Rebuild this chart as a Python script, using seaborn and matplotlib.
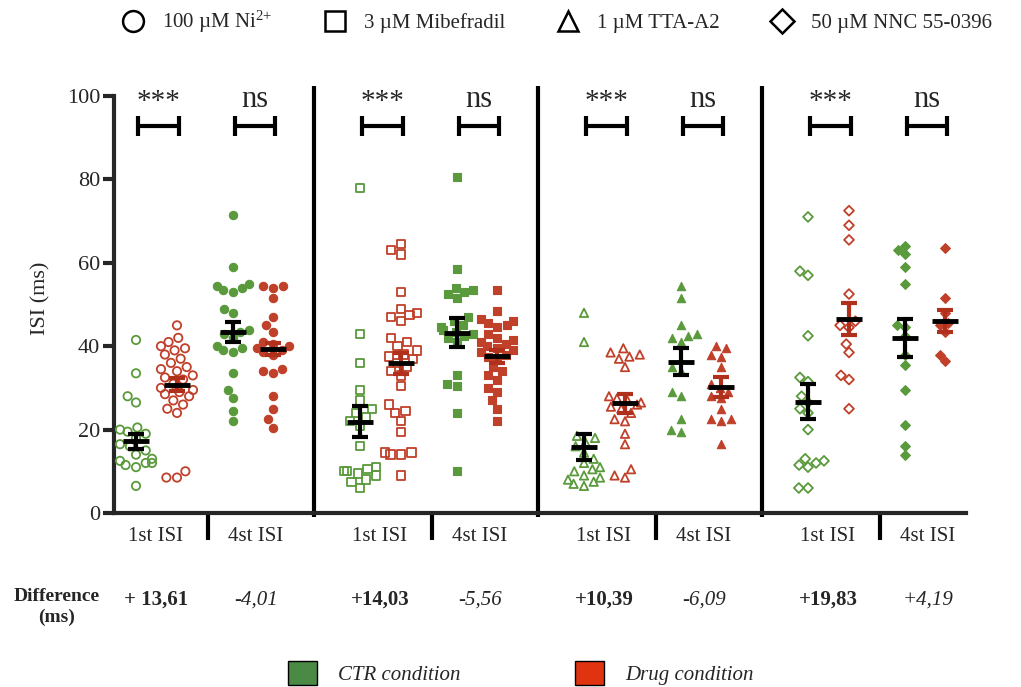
import numpy as np
import pandas as pd
import matplotlib
matplotlib.use('Agg')
import matplotlib.pyplot as plt
import matplotlib.transforms as mtransforms
from matplotlib.lines import Line2D
from matplotlib.patches import Patch
import seaborn as sns

# ---- labels ----
drugs = ['100 µM Ni$^{2{+}}$', '3 µM Mibefradil', '1 µM TTA-A2', '50 µM NNC 55-0396']
drug_markers = ['o', 's', '^', 'D']
marker_sizes = [6.0, 6.0, 6.0, 5.0]
isi_labels = ['1st ISI', '4st ISI']
condition_labels = ['CTR condition', 'Drug condition']
sig_labels = ['***', 'ns']
diff_labels = ['+ 13,61', '-4,01', '+14,03', '-5,56', '+10,39', '-6,09', '+19,83', '+4,19']

# ---- individual ISI values (ms) ----
ni_ctr_1st = [41.5, 33.5, 28, 26.5, 20.5, 20, 19.5, 19, 18, 16.5, 16, 15, 14, 13, 12.5, 12, 12, 11.5, 11, 6.5]
ni_drug_1st = [45, 42, 41, 40, 39.5, 39, 38, 37, 36, 35, 34.5, 34, 33, 32.5, 32, 31, 30, 29.5, 29, 28.5,
               28, 27, 26, 25, 24, 10, 8.5, 8.5]
ni_ctr_4st = [71.5, 59, 55, 54.5, 54, 53.5, 53, 49, 48, 44, 43.5, 43, 42, 40, 39.5, 39, 38.5, 33.5, 29.5,
              27.5, 24.5, 22]
ni_drug_4st = [54.5, 54.5, 54, 51.5, 47, 45, 43.5, 41, 40.5, 40, 39.5, 39, 38.5, 38, 34.5, 34, 33.5, 28, 25,
               22.5, 20.5]

mib_ctr_1st = [78, 43, 36, 29.5, 27, 25, 24, 23, 22, 21, 16, 11, 10.5, 10, 10, 9.5, 9, 8, 7.5, 6]
mib_drug_1st = [64.5, 63, 62, 53, 49, 48, 47.5, 47, 46, 42, 41, 40, 39, 38, 37.5, 37, 36, 35, 34, 33, 30.5,
                26, 24.5, 24, 22, 19.5, 14.5, 14.5, 14, 14, 9]
mib_ctr_4st = [80.5, 58.5, 54, 53.5, 53, 52.5, 51.5, 47, 46, 45, 44.5, 44, 43.5, 43, 42.5, 42, 41, 33, 31,
               30.5, 24, 10]
mib_drug_4st = [53.5, 48.5, 46.5, 46, 45.5, 45, 44.5, 43, 42, 41.5, 41, 40.5, 40, 39.5, 39, 38.5, 38, 37.5,
                37, 35, 34, 33, 32, 30, 29, 27, 25, 22]

tta_ctr_1st = [48, 41, 18.5, 18, 17, 16, 14.5, 13, 12, 11, 10.5, 10, 9, 8.5, 8, 7.5, 7, 6.5]
tta_drug_1st = [39.5, 38.5, 38, 37.5, 37, 35, 28, 27.5, 27, 26.5, 26, 25.5, 25, 24, 22.5, 22, 19, 16.5,
                10.5, 9, 8.5]
tta_ctr_4st = [54.5, 51.5, 45, 43, 42.5, 42, 41, 35, 34, 29, 28, 22.5, 20, 19.5]
tta_drug_4st = [40, 39.5, 38, 37.5, 35, 31, 30, 29, 28, 27.5, 25, 22.5, 22.5, 22, 16.5]

nnc_ctr_1st = [71, 58, 57, 42.5, 32.5, 31.5, 28, 26.5, 25, 24, 20, 13, 12.5, 12, 11.5, 11, 6, 6]
nnc_drug_1st = [72.5, 69, 65.5, 52.5, 46, 45, 44.5, 40.5, 38.5, 33, 32, 25]
nnc_ctr_4st = [64, 63, 62, 59, 55, 45, 44.5, 42.5, 38, 35.5, 29.5, 21, 16, 14]
nnc_drug_4st = [63.5, 51.5, 48, 45.5, 45, 43.5, 38, 36.5]

# ---- mean +/- SEM ----
mean_ctr_1st = [17.2, 21.9, 15.9, 26.7]
sem_ctr_1st = [1.8, 3.7, 3.1, 4.2]
mean_drug_1st = [30.8, 35.9, 26.3, 46.5]
sem_drug_1st = [1.5, 2.5, 2.2, 3.9]
mean_ctr_4st = [43.4, 43.2, 36.3, 41.9]
sem_ctr_4st = [2.5, 3.5, 3.2, 4.6]
mean_drug_4st = [39.4, 37.6, 30.2, 46.1]
sem_drug_4st = [1.4, 1.6, 2.3, 2.7]

groups = ['ctr_1st', 'drug_1st', 'ctr_4st', 'drug_4st']
raw = [
    [ni_ctr_1st, ni_drug_1st, ni_ctr_4st, ni_drug_4st],
    [mib_ctr_1st, mib_drug_1st, mib_ctr_4st, mib_drug_4st],
    [tta_ctr_1st, tta_drug_1st, tta_ctr_4st, tta_drug_4st],
    [nnc_ctr_1st, nnc_drug_1st, nnc_ctr_4st, nnc_drug_4st],
]
means = [mean_ctr_1st, mean_drug_1st, mean_ctr_4st, mean_drug_4st]
sems = [sem_ctr_1st, sem_drug_1st, sem_ctr_4st, sem_drug_4st]

# ---- layout (x axis in pixel-like units) ----
X0, PANEL_STEP = 136, 224
GROUP_OFFS = [0, 41, 97, 137]
green, red = '#5a9a3c', '#c0402a'
palette = {'ctr_1st': green, 'drug_1st': red, 'ctr_4st': green, 'drug_4st': red}

rows = []
for p in range(4):
    for g, name in enumerate(groups):
        for v in raw[p][g]:
            rows.append({'panel': p, 'group': name, 'xpos': X0 + PANEL_STEP * p + GROUP_OFFS[g], 'isi': v})
df = pd.DataFrame(rows)

sns.set_style('white')
plt.rcParams['font.family'] = ['Liberation Serif', 'DejaVu Serif']
plt.rcParams['mathtext.default'] = 'regular'

fig = plt.figure(figsize=(10.21, 6.87), dpi=100)
ax = fig.add_axes([114 / 1021, 1 - 513 / 687, (966 - 114) / 1021, 0.6252])

for p in range(4):
    sub = df[df['panel'] == p]
    n_before = len(ax.collections)
    sns.swarmplot(data=sub, x='xpos', y='isi', hue='group', palette=palette, native_scale=True,
                  orient='x', marker=drug_markers[p], size=marker_sizes[p], legend=False, ax=ax,
                  warn_thresh=1.0)
    for coll in ax.collections[n_before:]:
        offs = coll.get_offsets()
        if len(offs) == 0:
            continue
        cx = np.mean(offs[:, 0]) - X0 - PANEL_STEP * p
        g = int(np.argmin([abs(cx - o) for o in GROUP_OFFS]))
        col = palette[groups[g]]
        if g < 2:
            coll.set_facecolor('none')
            coll.set_edgecolor(col)
            coll.set_linewidth(1.3)
        else:
            coll.set_facecolor(col)
            coll.set_edgecolor(col)
            coll.set_linewidth(0.8)

# mean +/- sem
for p in range(4):
    for g in range(4):
        x = X0 + PANEL_STEP * p + GROUP_OFFS[g]
        ecol = 'black' if g in (0, 2) else '#b0301c'
        ax.errorbar(x, means[g][p], yerr=sems[g][p], fmt='none', ecolor=ecol, elinewidth=3,
                    capsize=6, capthick=3, zorder=6)
        ax.hlines(means[g][p], x - 13, x + 13, color='black', lw=3.5, zorder=7)

# significance brackets
for p in range(4):
    for k in range(2):
        xa = X0 + PANEL_STEP * p + GROUP_OFFS[2 * k] + 2
        xb = X0 + PANEL_STEP * p + GROUP_OFFS[2 * k + 1] + 2
        ax.plot([xa, xb], [92.8, 92.8], color='black', lw=3, clip_on=False)
        ax.vlines([xa, xb], 90.3, 95.3, color='black', lw=3, clip_on=False)
        ax.text((xa + xb) / 2, 98.6 if k == 0 else 99.2, sig_labels[k], ha='center', va='center',
                fontsize=21 if k == 0 else 22)

# panel separators and small ticks below the axis
seps = [X0 + PANEL_STEP * p + 178 for p in range(3)]
ax.vlines(seps, -1, 102.5, color='black', lw=3, clip_on=False)
sub_ticks = [X0 + PANEL_STEP * p + 72 for p in range(4)]
ax.vlines(sub_ticks, -6.5, 0, color='black', lw=3, clip_on=False)

label_x = []
label_txt = []
for p in range(4):
    label_x += [X0 + PANEL_STEP * p + 20, X0 + PANEL_STEP * p + 120]
    label_txt += isi_labels
ax.set_xticks(label_x)
ax.set_xticklabels(label_txt, fontsize=15)
ax.tick_params(axis='x', length=0, pad=10)

ax.set_xlim(114, 966)
ax.set_ylim(0, 103)
ax.set_yticks([0, 20, 40, 60, 80, 100])
ax.tick_params(axis='y', direction='out', length=8, width=3, labelsize=16, pad=2, left=True)
ax.set_xlabel('')
ax.set_ylabel('ISI (ms)', fontsize=16, labelpad=12)
for s in ['top', 'right']:
    ax.spines[s].set_visible(False)
ax.spines['left'].set_linewidth(3)
ax.spines['bottom'].set_linewidth(3)
ax.spines['left'].set_bounds(0, 100)

# difference row
trans = mtransforms.blended_transform_factory(ax.transData, fig.transFigure)
for i, (x, t) in enumerate(zip(label_x, diff_labels)):
    if i % 2 == 0:
        ax.text(x, 1 - 600 / 687, t, transform=trans, ha='center', va='center', fontsize=15, fontweight='bold')
    else:
        ax.text(x, 1 - 600 / 687, t, transform=trans, ha='center', va='center', fontsize=15, style='italic')
fig.text(57 / 1021, 1 - 607 / 687, 'Difference\n(ms)', ha='center', va='center', fontsize=14,
         fontweight='bold', linespacing=1.3)

# top legend: drugs
drug_handles = [Line2D([], [], marker=m, linestyle='none', markerfacecolor='none', markeredgecolor='black',
                       markersize=15 if m != 'D' else 12, markeredgewidth=1.8) for m in drug_markers]
fig.legend(drug_handles, drugs, ncol=4, loc='center', bbox_to_anchor=(0.544, 0.968), frameon=False,
           fontsize=15, handlelength=1.4, handletextpad=0.7, columnspacing=2.3)

# bottom legend: conditions
cond_handles = [Patch(facecolor='#4a8a45', edgecolor='black'), Patch(facecolor='#e0330f', edgecolor='black')]
fig.legend(cond_handles, condition_labels, ncol=2, loc='center', bbox_to_anchor=(0.51, 0.02), frameon=False,
           prop={'family': 'Liberation Serif', 'style': 'italic', 'size': 15}, handlelength=1.4,
           handleheight=1.4, handletextpad=1.0, columnspacing=5.5)

fig.savefig('out.png', dpi=100)
